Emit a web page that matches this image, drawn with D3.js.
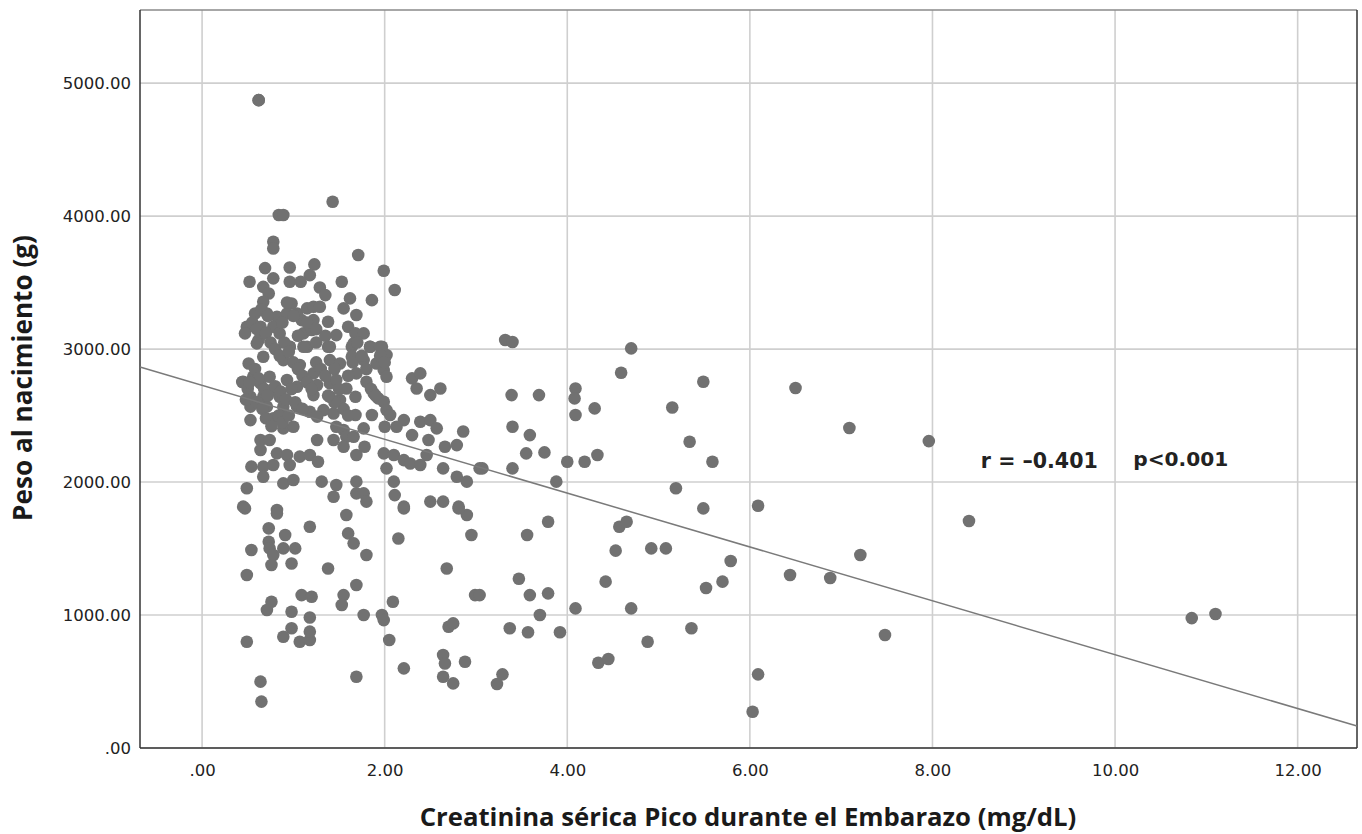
<!DOCTYPE html>
<html>
<head>
<meta charset="utf-8">
<script src="https://cdn.jsdelivr.net/npm/d3@7"></script>
<style>
  body { margin: 0; background: #fff; }
  svg { display: block; }
</style>
</head>
<body>
<div id="chart"></div>
<script>
// creatinina (mg/dL), peso (g)
var creatinina = [
  0.62, 1.43, 0.84, 0.89, 0.78, 0.78, 1.71, 1.99, 2.11, 0.69, 0.96, 1.23, 1.18, 0.52, 0.78,
  0.96, 1.08, 1.53, 1.29, 1.35, 0.67, 0.73, 1.86, 1.62, 1.55, 1.69, 0.67, 0.58, 0.71, 0.82,
  0.49, 0.64, 0.78, 0.47, 0.62, 0.85, 0.98, 0.93, 1.04, 1.15, 1.22, 1.29, 1.09, 1.22, 1.11,
  1.20, 1.38, 1.47, 1.60, 1.68, 1.77, 0.96, 1.15, 1.38, 1.64, 1.84, 1.97,
  0.60, 0.96, 1.11, 1.40, 1.66, 1.84, 1.95, 2.02, 0.67, 0.89, 1.07, 1.40, 1.51, 1.64, 1.77,
  1.91, 1.99, 2.02, 0.51, 0.45, 0.56, 0.64, 0.74, 0.78, 0.53, 0.67, 0.85, 0.53, 0.71, 0.89,
  1.04, 0.93, 1.04, 1.22, 1.26, 1.22, 1.40, 1.47, 1.58, 1.40, 1.51, 1.33, 1.44, 1.18, 1.26,
  1.69, 1.80, 1.88, 1.93, 1.99, 2.02, 2.06, 1.68, 1.68, 1.86, 2.30, 2.39, 2.35, 2.50, 2.61,
  2.21, 2.13, 2.39, 2.50, 2.57, 2.86, 2.30, 2.48, 2.66, 2.79, 2.00, 1.47, 1.55, 1.44, 1.58,
  1.66, 1.77, 1.55, 1.69, 1.78, 0.53, 0.78, 0.89, 1.00, 0.64, 0.74, 0.64, 0.82, 0.93, 1.07,
  1.18, 1.26, 1.27, 0.54, 0.67, 0.78, 0.96, 0.67, 0.89, 1.00, 0.49, 1.31, 1.47, 1.69, 1.44,
  1.69, 1.77, 1.80, 1.99, 2.10, 2.21, 2.28, 2.02, 2.10, 2.11, 2.21, 2.39, 2.46, 2.64, 2.79,
  2.90, 3.04, 2.50, 2.64, 2.81, 0.45, 0.82,
  0.47, 0.82, 0.73, 0.91, 1.18, 0.73, 0.74, 0.89, 1.02, 0.78, 0.54, 0.76, 0.98, 0.49, 1.38,
  1.58, 1.60, 1.66, 1.80, 2.15, 2.21, 2.68, 2.95, 2.99, 2.90, 2.81, 1.69, 1.55, 1.53, 1.09,
  1.20, 0.76, 0.71, 0.98, 1.18, 1.77, 1.97, 1.99, 2.09, 2.05, 0.98, 0.89, 1.07, 1.18, 1.18,
  0.49, 2.70, 2.75, 2.64, 2.66, 2.64, 2.75, 2.88, 2.21, 1.69, 0.64, 0.65, 0.62, 0.44,
  3.32, 3.40, 4.70, 4.59, 5.49, 3.39, 3.69, 4.09, 4.08, 4.09, 4.30, 5.15, 3.40, 3.59, 3.55,
  3.75, 4.00, 4.19, 4.33, 5.34, 5.59, 3.07, 3.40, 3.88, 5.19, 5.49, 6.09, 3.79, 3.56, 4.57,
  4.65, 4.53, 4.92, 5.08, 5.79, 5.70, 5.52, 3.47, 3.59, 3.79, 4.42, 3.04, 3.70, 4.09, 4.70,
  3.37, 3.57, 3.92, 4.88, 5.36, 4.34, 4.45, 3.29, 3.23, 6.09, 6.03,
  6.50, 7.09, 7.96, 8.40, 7.21, 6.88, 6.44, 7.48, 10.84, 11.10,
  0.55, 0.60, 0.70, 0.75, 0.80, 0.85, 0.90, 0.95, 1.00, 1.05, 1.10, 1.15, 1.20, 0.58, 0.62,
  0.68, 0.72, 0.80, 0.86, 0.92, 0.98, 1.02, 1.10, 0.60, 0.66, 0.70, 0.76, 0.84, 0.88, 0.95,
  1.25, 1.30, 1.35, 1.45, 1.50, 1.60, 1.65, 1.70, 1.75, 1.80, 1.85, 1.90, 1.95, 2.00, 1.55,
  1.60, 1.45, 1.38, 0.50, 0.48, 0.52, 0.65, 0.72, 0.88, 1.00, 1.15, 1.25, 1.05, 0.93, 1.25,
  1.35
];
var peso = [
  4872, 4108, 4008, 4008, 3807, 3757, 3707, 3589, 3444, 3609, 3614, 3637, 3556, 3506, 3532,
  3506, 3506, 3506, 3463, 3406, 3468, 3418, 3368, 3381, 3306, 3256, 3356, 3268, 3268, 3243,
  3168, 3168, 3168, 3118, 3068, 3118, 3343, 3268, 3268, 3306, 3318, 3318, 3218, 3218, 3118,
  3143, 3205, 3105, 3168, 3118, 3118, 3017, 3017, 3017, 3017, 3017, 3017,
  3043, 3017, 3017, 3017, 3043, 3017, 3017, 2955, 2942, 2917, 2880, 2917, 2892, 2942, 2917,
  2892, 2842, 2792, 2892, 2754, 2792, 2742, 2792, 2692, 2642, 2642, 2642, 2567, 2567, 2567,
  2567, 2767, 2717, 2817, 2729, 2654, 2742, 2767, 2704, 2642, 2617, 2541, 2516, 2529, 2492,
  2817, 2754, 2667, 2629, 2604, 2541, 2504, 2642, 2504, 2504, 2780, 2817, 2704, 2654, 2704,
  2466, 2416, 2454, 2466, 2404, 2380, 2353, 2316, 2266, 2278, 2416, 2416, 2391, 2316, 2341,
  2341, 2404, 2266, 2203, 2266, 2466, 2479, 2404, 2416, 2316, 2316, 2241, 2216, 2203, 2191,
  2203, 2316, 2153, 2116, 2116, 2128, 2128, 2040, 1990, 2015, 1953, 2003, 1978, 2003, 1890,
  1915, 1915, 1853, 2216, 2203, 2165, 2140, 2103, 2003, 1902, 1815, 2128, 2203, 2103, 2040,
  2003, 2103, 1853, 1853, 1815, 1815, 1790,
  1802, 1764, 1652, 1602, 1664, 1551, 1501, 1501, 1501, 1451, 1489, 1376, 1388, 1301, 1350,
  1752, 1614, 1539, 1451, 1576, 1802, 1350, 1602, 1150, 1752, 1802, 1226, 1150, 1075, 1150,
  1138, 1100, 1038, 1025, 981, 1000, 1000, 962, 1100, 812, 900, 837, 799, 812, 875,
  799, 912, 937, 699, 636, 536, 486, 649, 599, 536, 499, 349, 4872, 2752,
  3068, 3053, 3005, 2822, 2754, 2654, 2654, 2704, 2629, 2504, 2554, 2561, 2416, 2353, 2216,
  2223, 2153, 2153, 2203, 2303, 2153, 2103, 2103, 2003, 1953, 1802, 1822, 1702, 1602, 1664,
  1702, 1484, 1501, 1501, 1406, 1251, 1203, 1273, 1150, 1163, 1251, 1150, 1000, 1050, 1050,
  900, 870, 870, 799, 900, 641, 669, 554, 481, 554, 273,
  2707, 2406, 2308, 1707, 1451, 1278, 1301, 850, 977, 1008,
  3200, 3150, 3120, 3050, 3000, 2950, 3050, 2980, 2900, 2850, 2800, 2750, 2700, 2850, 2780,
  2700, 2650, 2720, 2680, 2620, 2700, 2600, 2550, 2600, 2550, 2480, 2420, 2500, 2450, 2500,
  2900, 2850, 2800, 2850, 2700, 2800, 2900, 3050, 2950, 2850, 2700, 2650, 2950, 2900, 2550,
  2500, 2600, 2650, 2700, 2620, 2750, 3300, 3250, 3200, 3250, 3200, 3150, 3100, 3350, 3050,
  3100
];
var xTicks = [0, 2, 4, 6, 8, 10, 12];
var yTicks = [0, 1000, 2000, 3000, 4000, 5000];
var xDomain = [-0.68, 12.65];
var yDomain = [0, 5550];
// recta de ajuste
var intercepto = 2727;
var pendiente = -202.5;
var etiquetaR = "r = \u20130.401";
var etiquetaP = "p<0.001";
var tituloX = "Creatinina s\u00e9rica Pico durante el Embarazo (mg/dL)";
var tituloY = "Peso al nacimiento (g)";

var data = creatinina.map(function (c, i) {
  return { X: c, Y: peso[i] };
});

var W = 1362, H = 834;
var margin = { top: 10, right: 5, bottom: 86, left: 140 };
var width = W - margin.left - margin.right;
var height = H - margin.top - margin.bottom;

var svg = d3.select("#chart").append("svg")
  .attr("width", W)
  .attr("height", H)
  .style("font-family", "'DejaVu Sans', sans-serif");

var g = svg.append("g")
  .attr("transform", "translate(" + margin.left + "," + margin.top + ")");

var x = d3.scaleLinear().domain(xDomain).range([0, width]);
var y = d3.scaleLinear().domain(yDomain).range([height, 0]);

// scale a text's font size so it spans the wanted width
function fitText(sel, target) {
  var len = sel.node().getComputedTextLength();
  var fs = parseFloat(sel.style("font-size"));
  sel.style("font-size", (fs * target / len) + "px");
}

// grid
g.selectAll(".gx")
  .data(xTicks)
  .enter().append("line")
  .attr("class", "gx")
  .attr("x1", function (d) { return x(d); })
  .attr("x2", function (d) { return x(d); })
  .attr("y1", 0)
  .attr("y2", height)
  .style("stroke", "#cfcfcf")
  .style("stroke-width", 1.6);

g.selectAll(".gy")
  .data(yTicks)
  .enter().append("line")
  .attr("class", "gy")
  .attr("x1", 0)
  .attr("x2", width)
  .attr("y1", function (d) { return y(d); })
  .attr("y2", function (d) { return y(d); })
  .style("stroke", "#cfcfcf")
  .style("stroke-width", 1.6);

// axes (labels only, no tick marks)
var fmt = function (d) { return d3.format(".2f")(d).replace(/^0\./, "."); };

var xAxis = g.append("g")
  .attr("transform", "translate(0," + height + ")")
  .call(d3.axisBottom(x).tickValues(xTicks).tickFormat(fmt).tickSize(0).tickPadding(16));

var yAxis = g.append("g")
  .call(d3.axisLeft(y).tickValues(yTicks).tickFormat(fmt).tickSize(0).tickPadding(9));

[xAxis, yAxis].forEach(function (a) {
  a.select(".domain").remove();
  a.selectAll("text")
    .style("font-family", "'DejaVu Sans', sans-serif")
    .style("font-size", "16.5px")
    .style("fill", "#222");
});

// frame
g.append("line").attr("x1", 0).attr("x2", width).attr("y1", 0).attr("y2", 0)
  .style("stroke", "#8a8a8a").style("stroke-width", 1.5);
g.append("line").attr("x1", width).attr("x2", width).attr("y1", 0).attr("y2", height)
  .style("stroke", "#333").style("stroke-width", 1.5);
g.append("line").attr("x1", 0).attr("x2", 0).attr("y1", 0).attr("y2", height)
  .style("stroke", "#333").style("stroke-width", 1.5);
g.append("line").attr("x1", 0).attr("x2", width).attr("y1", height).attr("y2", height)
  .style("stroke", "#333").style("stroke-width", 1.5);

// draw dots
g.selectAll(".dot")
  .data(data)
  .enter().append("circle")
  .attr("class", "dot")
  .attr("r", 6.3)
  .attr("cx", function (d) { return x(d.X); })
  .attr("cy", function (d) { return y(d.Y); })
  .style("fill", "#717171");

// fit line
g.append("line")
  .attr("x1", x(xDomain[0]))
  .attr("y1", y(intercepto + pendiente * xDomain[0]))
  .attr("x2", x(xDomain[1]))
  .attr("y2", y(intercepto + pendiente * xDomain[1]))
  .style("stroke", "#7a7a7a")
  .style("stroke-width", 1.5);

// annotations
var tR = g.append("text")
  .attr("x", x(8.53))
  .attr("y", y(2000) - 14)
  .style("font-size", "19px")
  .style("font-weight", "bold")
  .style("fill", "#222")
  .text(etiquetaR);
fitText(tR, 117);

var tP = g.append("text")
  .attr("x", x(10.2))
  .attr("y", y(2000) - 16)
  .style("font-size", "19px")
  .style("font-weight", "bold")
  .style("fill", "#222")
  .text(etiquetaP);
fitText(tP, 95);

// axis titles
var tX = svg.append("text")
  .attr("x", 748)
  .attr("y", 826)
  .attr("text-anchor", "middle")
  .style("font-family", "'Open Sans', sans-serif")
  .style("font-size", "22px")
  .style("font-weight", "bold")
  .style("fill", "#1a1a1a")
  .text(tituloX);
fitText(tX, 657);

var tY = svg.append("text")
  .attr("transform", "translate(32,378) rotate(-90)")
  .attr("text-anchor", "middle")
  .style("font-family", "'Open Sans', sans-serif")
  .style("font-size", "22px")
  .style("font-weight", "bold")
  .style("fill", "#1a1a1a")
  .text(tituloY);
fitText(tY, 286);
</script>
</body>
</html>
